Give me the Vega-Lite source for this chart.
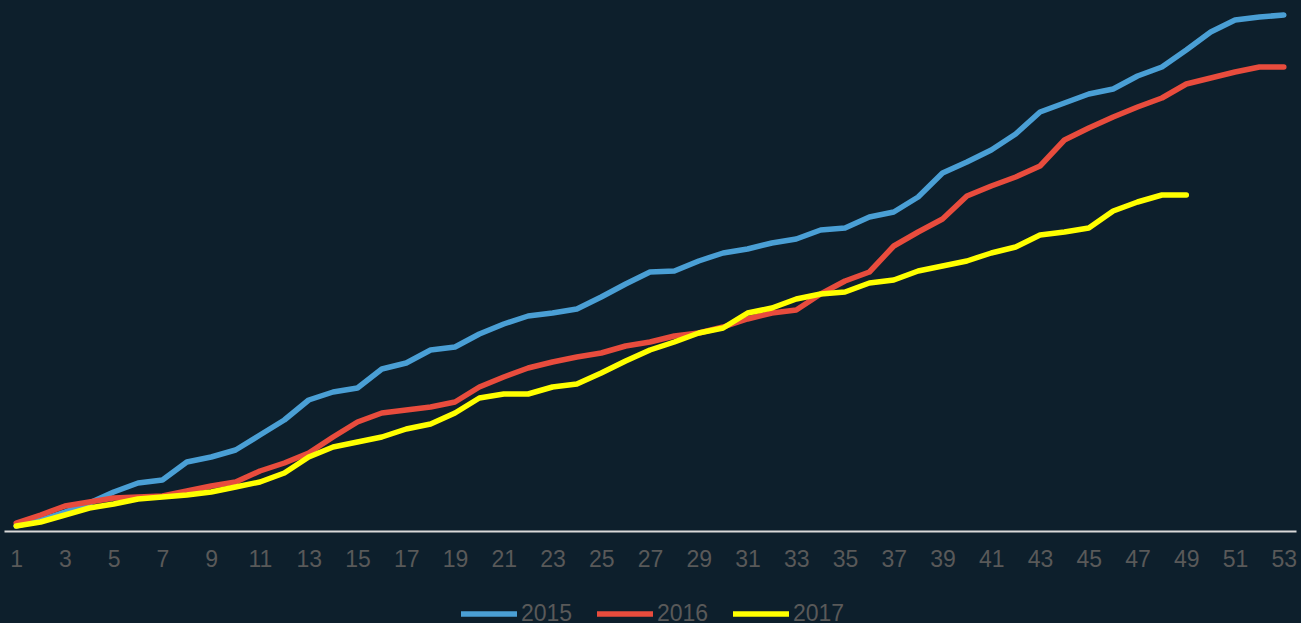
{
  "$schema": "https://vega.github.io/schema/vega-lite/v6.json",
  "width": 1292,
  "height": 521,
  "autosize": {"type": "none"},
  "padding": {"left": 4, "top": 10, "right": 5, "bottom": 92},
  "background": "#0d1f2c",
  "config": {
    "view": {"stroke": null},
    "font": "Liberation Sans"
  },
  "data": {
    "values": [
      {"week":1,"year":"2015","value":5},{"week":2,"year":"2015","value":11},{"week":3,"year":"2015","value":19},{"week":4,"year":"2015","value":28},{"week":5,"year":"2015","value":39},{"week":6,"year":"2015","value":48},{"week":7,"year":"2015","value":51},{"week":8,"year":"2015","value":69},{"week":9,"year":"2015","value":74},{"week":10,"year":"2015","value":81},
      {"week":11,"year":"2015","value":96},{"week":12,"year":"2015","value":111},{"week":13,"year":"2015","value":131},{"week":14,"year":"2015","value":139},{"week":15,"year":"2015","value":143},{"week":16,"year":"2015","value":162},{"week":17,"year":"2015","value":168},{"week":18,"year":"2015","value":181},{"week":19,"year":"2015","value":184},{"week":20,"year":"2015","value":197},
      {"week":21,"year":"2015","value":207},{"week":22,"year":"2015","value":215},{"week":23,"year":"2015","value":218},{"week":24,"year":"2015","value":222},{"week":25,"year":"2015","value":234},{"week":26,"year":"2015","value":247},{"week":27,"year":"2015","value":259},{"week":28,"year":"2015","value":260},{"week":29,"year":"2015","value":270},{"week":30,"year":"2015","value":278},
      {"week":31,"year":"2015","value":282},{"week":32,"year":"2015","value":288},{"week":33,"year":"2015","value":292},{"week":34,"year":"2015","value":301},{"week":35,"year":"2015","value":303},{"week":36,"year":"2015","value":314},{"week":37,"year":"2015","value":319},{"week":38,"year":"2015","value":334},{"week":39,"year":"2015","value":358},{"week":40,"year":"2015","value":369},
      {"week":41,"year":"2015","value":381},{"week":42,"year":"2015","value":397},{"week":43,"year":"2015","value":419},{"week":44,"year":"2015","value":428},{"week":45,"year":"2015","value":437},{"week":46,"year":"2015","value":442},{"week":47,"year":"2015","value":455},{"week":48,"year":"2015","value":464},{"week":49,"year":"2015","value":481},{"week":50,"year":"2015","value":499},
      {"week":51,"year":"2015","value":511},{"week":52,"year":"2015","value":514},{"week":53,"year":"2015","value":516},
      {"week":1,"year":"2016","value":8},{"week":2,"year":"2016","value":16},{"week":3,"year":"2016","value":25},{"week":4,"year":"2016","value":29},{"week":5,"year":"2016","value":33},{"week":6,"year":"2016","value":34},{"week":7,"year":"2016","value":35},{"week":8,"year":"2016","value":40},{"week":9,"year":"2016","value":45},{"week":10,"year":"2016","value":49},
      {"week":11,"year":"2016","value":60},{"week":12,"year":"2016","value":68},{"week":13,"year":"2016","value":78},{"week":14,"year":"2016","value":94},{"week":15,"year":"2016","value":109},{"week":16,"year":"2016","value":118},{"week":17,"year":"2016","value":121},{"week":18,"year":"2016","value":124},{"week":19,"year":"2016","value":129},{"week":20,"year":"2016","value":144},
      {"week":21,"year":"2016","value":154},{"week":22,"year":"2016","value":163},{"week":23,"year":"2016","value":169},{"week":24,"year":"2016","value":174},{"week":25,"year":"2016","value":178},{"week":26,"year":"2016","value":185},{"week":27,"year":"2016","value":189},{"week":28,"year":"2016","value":195},{"week":29,"year":"2016","value":198},{"week":30,"year":"2016","value":204},
      {"week":31,"year":"2016","value":212},{"week":32,"year":"2016","value":218},{"week":33,"year":"2016","value":221},{"week":34,"year":"2016","value":237},{"week":35,"year":"2016","value":250},{"week":36,"year":"2016","value":259},{"week":37,"year":"2016","value":285},{"week":38,"year":"2016","value":299},{"week":39,"year":"2016","value":312},{"week":40,"year":"2016","value":335},
      {"week":41,"year":"2016","value":345},{"week":42,"year":"2016","value":354},{"week":43,"year":"2016","value":365},{"week":44,"year":"2016","value":391},{"week":45,"year":"2016","value":403},{"week":46,"year":"2016","value":414},{"week":47,"year":"2016","value":424},{"week":48,"year":"2016","value":433},{"week":49,"year":"2016","value":447},{"week":50,"year":"2016","value":453},
      {"week":51,"year":"2016","value":459},{"week":52,"year":"2016","value":464},{"week":53,"year":"2016","value":464},
      {"week":1,"year":"2017","value":5},{"week":2,"year":"2017","value":9},{"week":3,"year":"2017","value":16},{"week":4,"year":"2017","value":23},{"week":5,"year":"2017","value":27},{"week":6,"year":"2017","value":32},{"week":7,"year":"2017","value":34},{"week":8,"year":"2017","value":36},{"week":9,"year":"2017","value":39},{"week":10,"year":"2017","value":44},
      {"week":11,"year":"2017","value":49},{"week":12,"year":"2017","value":58},{"week":13,"year":"2017","value":74},{"week":14,"year":"2017","value":84},{"week":15,"year":"2017","value":89},{"week":16,"year":"2017","value":94},{"week":17,"year":"2017","value":102},{"week":18,"year":"2017","value":107},{"week":19,"year":"2017","value":118},{"week":20,"year":"2017","value":133},
      {"week":21,"year":"2017","value":137},{"week":22,"year":"2017","value":137},{"week":23,"year":"2017","value":144},{"week":24,"year":"2017","value":147},{"week":25,"year":"2017","value":158},{"week":26,"year":"2017","value":170},{"week":27,"year":"2017","value":181},{"week":28,"year":"2017","value":189},{"week":29,"year":"2017","value":198},{"week":30,"year":"2017","value":203},
      {"week":31,"year":"2017","value":218},{"week":32,"year":"2017","value":223},{"week":33,"year":"2017","value":232},{"week":34,"year":"2017","value":237},{"week":35,"year":"2017","value":239},{"week":36,"year":"2017","value":248},{"week":37,"year":"2017","value":251},{"week":38,"year":"2017","value":260},{"week":39,"year":"2017","value":265},{"week":40,"year":"2017","value":270},
      {"week":41,"year":"2017","value":278},{"week":42,"year":"2017","value":284},{"week":43,"year":"2017","value":296},{"week":44,"year":"2017","value":299},{"week":45,"year":"2017","value":303},{"week":46,"year":"2017","value":320},{"week":47,"year":"2017","value":329},{"week":48,"year":"2017","value":336},{"week":49,"year":"2017","value":336}
    ]
  },
  "mark": {"type": "line", "strokeWidth": 5.5, "strokeCap": "round", "strokeJoin": "round"},
  "encoding": {
    "x": {
      "field": "week",
      "type": "ordinal",
      "sort": "ascending",
      "scale": {"type": "point", "padding": 0.5},
      "axis": {
        "title": null,
        "labelAngle": 0,
        "ticks": false,
        "grid": false,
        "domainColor": "#d9d9d9",
        "domainWidth": 2,
        "labelColor": "#595959",
        "labelFontSize": 23,
        "labelPadding": 17,
        "labelFont": "Liberation Sans",
        "labelExpr": "datum.value % 2 == 1 ? datum.label : ''",
        "labelOverlap": false
      }
    },
    "y": {
      "field": "value",
      "type": "quantitative",
      "scale": {"domain": [0, 521], "nice": false, "zero": true},
      "axis": null
    },
    "color": {
      "field": "year",
      "type": "nominal",
      "scale": {"domain": ["2015", "2016", "2017"], "range": ["#4a9fd5", "#e84c3d", "#ffff00"]},
      "legend": {
        "title": null,
        "orient": "none",
        "direction": "horizontal",
        "legendX": 454,
        "legendY": 573,
        "symbolType": "stroke",
        "symbolSize": 3136,
        "symbolStrokeWidth": 5.5,
        "labelColor": "#595959",
        "labelFontSize": 23,
        "labelFont": "Liberation Sans",
        "labelOffset": 1,
        "columnPadding": 13,
        "padding": 0
      }
    }
  }
}
